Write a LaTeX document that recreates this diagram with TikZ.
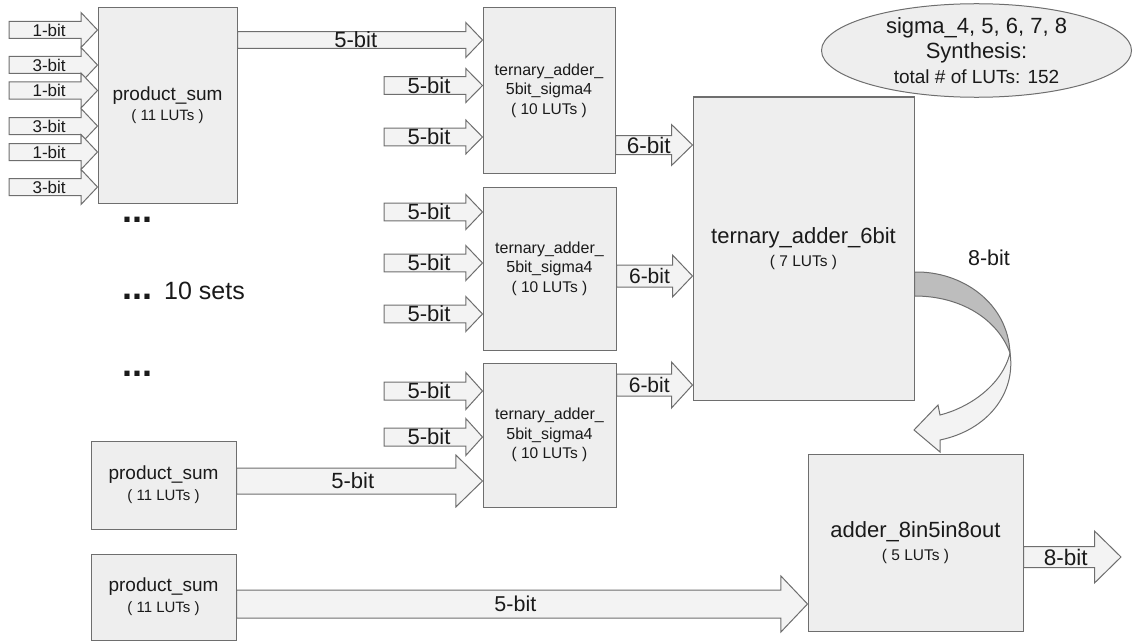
\documentclass[tikz,border=0pt]{standalone}
\usepackage{fontspec}
\setmainfont{Liberation Sans}
\usetikzlibrary{calc,shapes.geometric}
\definecolor{boxfill}{HTML}{EEEEEE}
\definecolor{edge}{HTML}{6E6E6E}
\definecolor{arrfill}{HTML}{F3F3F3}
\definecolor{darkband}{HTML}{BDBDBD}
\definecolor{ink}{HTML}{1A1A1A}
\newcommand\fsz[2]{\fontsize{#1}{#2}\selectfont}
% #1 start, #2 tip, #3 shaft half, #4 head half, #5 head length, #6 font size, #7 label
\newcommand\fatarrow[7]{%
  \draw[arrowbody] let \p1=(#1), \p2=(#2) in
    (\x1,\y2+#3pt) -- (\x2-#5pt,\y2+#3pt) -- (\x2-#5pt,\y2+#4pt) -- (\x2,\y2)
    -- (\x2-#5pt,\y2-#4pt) -- (\x2-#5pt,\y2-#3pt) -- (\x1,\y2-#3pt) -- cycle
    node[lbl, font=\fsz{#6}{#6}] at ({(\x1+\x2-#5pt/2)/2},\y2) {#7};
}
\tikzset{
  blk/.style={draw=edge, fill=boxfill, line width=1pt, inner sep=0pt, align=center, text=ink},
  arrowbody/.style={draw=edge, fill=arrfill, line width=1pt, line join=miter},
  lbl/.style={text=ink, inner sep=0pt},
}
\begin{document}
\begin{tikzpicture}[x=1pt,y=-1pt]
\useasboundingbox (0,0) rectangle (1133,642);

% boxes
\node[blk, minimum width=139pt, minimum height=195pt, font=\fsz{19}{20}] (ps1) at (167.5,105.5)
  {product\_sum\\{\fsz{15}{20}( 11 LUTs )}};
\node[blk, minimum width=145pt, minimum height=88pt, font=\fsz{19}{21}] (ps2) at (163.5,485)
  {product\_sum\\{\fsz{15}{21}( 11 LUTs )}};
\node[blk, minimum width=145pt, minimum height=86pt, font=\fsz{19}{21}] (ps3) at (163.5,597)
  {product\_sum\\{\fsz{15}{21}( 11 LUTs )}};
\node[blk, minimum width=132pt, minimum height=165pt, font=\fsz{16}{19.5}] (t1) at (549,90.5)
  {ternary\_adder\_\\5bit\_sigma4\\{\fsz{15.5}{19.5}( 10 LUTs )}};
\node[blk, minimum width=133pt, minimum height=163pt, font=\fsz{16}{19.5}] (t2) at (549.5,268.5)
  {ternary\_adder\_\\5bit\_sigma4\\{\fsz{15.5}{19.5}( 10 LUTs )}};
\node[blk, minimum width=133pt, minimum height=144pt, font=\fsz{16}{19.5}] (t3) at (549.5,435)
  {ternary\_adder\_\\5bit\_sigma4\\{\fsz{15.5}{19.5}( 10 LUTs )}};
\node[blk, minimum width=221pt, minimum height=303pt, font=\fsz{22}{22.6}] (t6) at (803.5,248.5)
  {ternary\_adder\_6bit\\{\fsz{15.5}{22.6}( 7 LUTs )}};
\node[blk, minimum width=215pt, minimum height=177pt, font=\fsz{22}{22.6}] (add) at (915.5,542.5)
  {adder\_8in5in8out\\{\fsz{15.5}{22.6}( 5 LUTs )}};
\node[blk, ellipse, minimum width=310pt, minimum height=82pt, font=\fsz{22}{25}] (syn) at (976.5,50.5)
  {sigma\_4, 5, 6, 7, 8\\Synthesis:\\{\fsz{19}{25}total \# of LUTs: 152}};

% free ends
\coordinate (i1) at (9,30);
\coordinate (i2) at (9,65);
\coordinate (i3) at (9,90.5);
\coordinate (i4) at (9,126);
\coordinate (i5) at (9,152);
\coordinate (i6) at (9,187);
\coordinate (a1) at (384,85.5);
\coordinate (a2) at (384,137);
\coordinate (b1) at (384,212);
\coordinate (b2) at (384,263);
\coordinate (b3) at (384,314);
\coordinate (c1) at (384,391);
\coordinate (c2) at (384,437);
\coordinate (out) at (1121,557);

% inputs of product_sum
\fatarrow{i1}{ps1.west|-i1}{8.5}{17.5}{16.5}{17}{1-bit}
\fatarrow{i2}{ps1.west|-i2}{8.5}{17.5}{16.5}{17}{3-bit}
\fatarrow{i3}{ps1.west|-i3}{8.5}{17.5}{16.5}{17}{1-bit}
\fatarrow{i4}{ps1.west|-i4}{8.5}{17.5}{16.5}{17}{3-bit}
\fatarrow{i5}{ps1.west|-i5}{8.5}{17.5}{16.5}{17}{1-bit}
\fatarrow{i6}{ps1.west|-i6}{8.5}{17.5}{16.5}{17}{3-bit}

% into ternary 1
\fatarrow{ps1.east|-0,40}{t1.west|-0,40}{8.3}{17.5}{16.7}{22}{5-bit}
\fatarrow{a1}{t1.west|-a1}{8.8}{17}{16.7}{22}{5-bit}
\fatarrow{a2}{t1.west|-a2}{8.8}{17}{16.7}{22}{5-bit}
% into ternary 2
\fatarrow{b1}{t2.west|-b1}{8.8}{17.5}{16.7}{22}{5-bit}
\fatarrow{b2}{t2.west|-b2}{8.8}{17.5}{16.7}{22}{5-bit}
\fatarrow{b3}{t2.west|-b3}{8.8}{17.5}{16.7}{22}{5-bit}
% into ternary 3
\fatarrow{c1}{t3.west|-c1}{9}{18.5}{16.7}{22}{5-bit}
\fatarrow{c2}{t3.west|-c2}{9}{18.5}{16.7}{22}{5-bit}
\fatarrow{ps2.east|-0,481}{t3.west|-0,481}{13}{26}{26.7}{22}{5-bit}

% into ternary_adder_6bit
\fatarrow{t1.east|-0,145}{t6.west|-0,145}{9.5}{20.5}{21}{22.5}{6-bit}
\fatarrow{t2.east|-0,276}{t6.west|-0,276}{11}{21}{20}{21}{6-bit}
\fatarrow{t3.east|-0,385}{t6.west|-0,385}{11}{23}{21}{21}{6-bit}

% long 5-bit and output
\fatarrow{ps3.east|-0,604}{add.west|-0,604}{14}{28}{26.6}{21.5}{5-bit}
\fatarrow{add.east|-out}{out}{10.5}{26}{26.5}{22.5}{8-bit}

% curved 8-bit arrow
\coordinate (cs1) at (t6.east|-0,272);
\coordinate (cs2) at (t6.east|-0,296);
\coordinate (cx) at (1010,353);
\filldraw[draw=edge, fill=darkband, line width=1pt]
  (cs1) .. controls (962,271) and (1008,303) .. (cx)
        .. controls (998,320) and (962,296) .. (cs2) -- cycle;
\filldraw[arrowbody]
  (cx) .. controls (1016,393) and (988,430) .. (940,440)
  -- (940,452) -- (914,430) -- (938,405) -- (940,415)
  .. controls (968,408) and (1002,386) .. (cx) -- cycle;
\node[lbl, font=\fsz{21.5}{21.5}] (lb8) at (989,258) {8-bit};

% ellipsis marks
\node[lbl, anchor=base west, font=\bfseries\fsz{36}{36}] (d1) at (122,222) {...};
\node[lbl, anchor=base west, font=\bfseries\fsz{36}{36}] (d2) at (122,299) {...};
\node[lbl, anchor=base west, font=\fsz{25}{25}] (sets) at (164,299) {10 sets};
\node[lbl, anchor=base west, font=\bfseries\fsz{36}{36}] (d3) at (122,376) {...};
\end{tikzpicture}
\end{document}
